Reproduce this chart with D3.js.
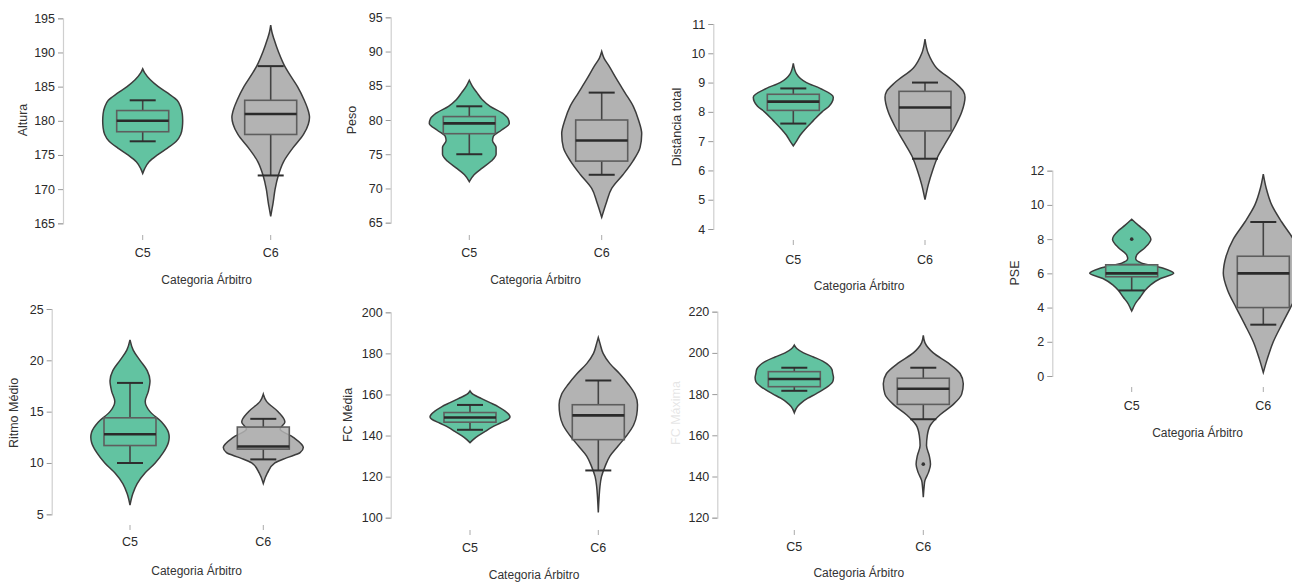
<!DOCTYPE html>
<html>
<head>
<meta charset="utf-8">
<script src="https://cdn.jsdelivr.net/npm/d3@7"></script>
<style>
  body { margin: 0; background: #fff; }
  svg { display: block; font-family: "Liberation Sans", Arial, sans-serif; }
</style>
</head>
<body>
<div id="draw"></div>
<script>
// categories and labels
var categories = ["C5", "C6"];
var xTitle = "Categoria Árbitro";
var yLabels = ["Altura", "Peso", "Distância total", "PSE", "Ritmo Médio", "FC Média", "FC Máxima"];
var yDomains = [[165, 195], [65, 95], [4, 11], [0, 12], [5, 25], [100, 200], [120, 220]];
var yTicks = [
    [165, 170, 175, 180, 185, 190, 195],
    [65, 70, 75, 80, 85, 90, 95],
    [4, 5, 6, 7, 8, 9, 10, 11],
    [0, 2, 4, 6, 8, 10, 12],
    [5, 10, 15, 20, 25],
    [100, 120, 140, 160, 180, 200],
    [120, 140, 160, 180, 200, 220]
];

// box stats per category: [q1, median, q3, lowWhisker, highWhisker]
var alturaStats = [[178.4, 180, 181.5, 177, 183], [178, 181, 183, 172, 188]];
var pesoStats = [[78, 79.5, 80.5, 75, 82], [74, 77, 80, 72, 84]];
var distStats = [[8.05, 8.35, 8.6, 7.6, 8.8], [7.35, 8.15, 8.7, 6.4, 9.0]];
var pseStats = [[5.8, 6, 6.5, 5, 6.5], [4, 6, 7, 3, 9]];
var ritmoStats = [[11.7, 12.8, 14.4, 10, 17.8], [11.35, 11.6, 13.5, 10.35, 14.3]];
var fcMediaStats = [[146.5, 148.8, 151.2, 142.8, 154.9], [138, 149.8, 155, 123, 166.8]];
var fcMaxStats = [[183.6, 187.3, 190.9, 181.6, 192.8], [175, 182.6, 187.7, 167.8, 192.8]];

// outliers per category
var pseOutliers = [[8], []];
var fcMaxOutliers = [[], [146]];

// violin outlines: [value, relative half width]
var alturaViolin = [
    [[172.3, 0], [173, 0.05], [174, 0.16], [175, 0.37], [176, 0.62], [177, 0.84], [178, 0.95], [179, 0.99], [180, 1.0], [181, 0.99], [182, 0.95], [183, 0.86], [184, 0.64], [185, 0.39], [186, 0.19], [187, 0.05], [187.6, 0]],
    [[166, 0], [167, 0.03], [168, 0.06], [170, 0.11], [172, 0.19], [174, 0.32], [176, 0.55], [178, 0.82], [179.5, 0.94], [180.5, 0.97], [182, 0.91], [183, 0.84], [185, 0.67], [187, 0.45], [188, 0.35], [190, 0.2], [192, 0.08], [193, 0.03], [194, 0]]
];
var pesoViolin = [
    [[71, 0], [72, 0.12], [73, 0.33], [74, 0.55], [75, 0.67], [76, 0.67], [77, 0.58], [77.6, 0.6], [78.5, 0.8], [79.5, 1.0], [80.2, 0.97], [81, 0.83], [82, 0.52], [83, 0.32], [84, 0.19], [85, 0.07], [85.8, 0]],
    [[65.8, 0], [68, 0.12], [70, 0.25], [72, 0.53], [74, 0.78], [76, 0.96], [78, 1.0], [80, 0.92], [82, 0.79], [84, 0.58], [86, 0.37], [88, 0.17], [89, 0.06], [90, 0]]
];
var distViolin = [
    [[6.84, 0], [7.0, 0.08], [7.2, 0.17], [7.4, 0.29], [7.7, 0.5], [8.0, 0.72], [8.2, 0.9], [8.5, 1.0], [8.8, 0.67], [9.0, 0.33], [9.3, 0.08], [9.66, 0]],
    [[5.0, 0], [5.5, 0.08], [6.0, 0.19], [6.5, 0.33], [7.0, 0.54], [7.5, 0.75], [8.0, 0.92], [8.5, 1.0], [8.7, 0.96], [9.0, 0.75], [9.5, 0.29], [10.0, 0.08], [10.48, 0]]
];
var pseViolin = [
    [[3.8, 0], [4.0, 0.04], [4.3, 0.11], [4.6, 0.21], [5.0, 0.33], [5.3, 0.46], [5.7, 0.72], [6.0, 1.05], [6.3, 0.79], [6.6, 0.25], [6.85, 0.1], [7.1, 0.13], [7.5, 0.33], [8.0, 0.48], [8.5, 0.33], [8.8, 0.17], [9.16, 0]],
    [[0.2, 0], [1, 0.1], [2, 0.25], [3, 0.46], [4, 0.68], [5, 0.89], [6, 1.0], [7, 0.93], [8, 0.75], [9, 0.46], [10, 0.21], [11, 0.07], [11.8, 0]]
];
var ritmoViolin = [
    [[5.9, 0], [7, 0.07], [8, 0.18], [9, 0.37], [10, 0.63], [11, 0.83], [12, 0.96], [12.5, 0.98], [13, 0.96], [14, 0.79], [15, 0.5], [16, 0.38], [17, 0.46], [18, 0.5], [19, 0.43], [20, 0.25], [21, 0.08], [22, 0]],
    [[8, 0], [9, 0.1], [10, 0.29], [10.5, 0.58], [11, 0.92], [11.5, 1.0], [12.5, 0.75], [13.3, 0.42], [14, 0.54], [15, 0.37], [16, 0.08], [16.7, 0]]
];
var fcMediaViolin = [
    [[136.5, 0], [138, 0.08], [140, 0.21], [142, 0.38], [144, 0.54], [146, 0.75], [148, 0.96], [149, 1.0], [150, 0.98], [152, 0.87], [154, 0.71], [156, 0.5], [158, 0.29], [160, 0.08], [161.7, 0]],
    [[102.5, 0], [110, 0.02], [115, 0.04], [120, 0.08], [125, 0.17], [130, 0.29], [135, 0.5], [140, 0.71], [145, 0.88], [150, 0.96], [155, 0.98], [160, 0.92], [165, 0.75], [170, 0.54], [175, 0.29], [180, 0.12], [185, 0.04], [187.7, 0]]
];
var fcMaxViolin = [
    [[171, 0], [174, 0.08], [176, 0.19], [178, 0.34], [180, 0.53], [182, 0.71], [184, 0.86], [186, 0.96], [188, 0.98], [190, 0.96], [192, 0.94], [194, 0.86], [196, 0.71], [198, 0.48], [200, 0.23], [202, 0.07], [203.8, 0]],
    [[130, 0], [135, 0.02], [138, 0.04], [142, 0.13], [146, 0.18], [150, 0.15], [155, 0.08], [160, 0.1], [165, 0.18], [170, 0.42], [175, 0.75], [180, 0.96], [185, 1.0], [190, 0.92], [195, 0.63], [200, 0.25], [205, 0.04], [208.5, 0]]
];

var allStats = [alturaStats, pesoStats, distStats, pseStats, ritmoStats, fcMediaStats, fcMaxStats];
var allViolins = [alturaViolin, pesoViolin, distViolin, pseViolin, ritmoViolin, fcMediaViolin, fcMaxViolin];
var allOutliers = [[[], []], [[], []], [[], []], pseOutliers, [[], []], [[], []], fcMaxOutliers];

// panel placement on the page
var layout = [
    {ax: 63, top: 18.3, bot: 223.3, cats: [142.7, 270.7], tickY: 235, labY: 253, titY: 280, ylX: 23, ylY: 120},
    {ax: 390.7, top: 17.3, bot: 222.7, cats: [469.3, 601.7], tickY: 235, labY: 253, titY: 280, ylX: 351.7, ylY: 120},
    {ax: 713.3, top: 24, bot: 229, cats: [793.3, 925], tickY: 240, labY: 260, titY: 286, ylX: 676.7, ylY: 127},
    {ax: 1052.3, top: 170.7, bot: 376, cats: [1131.7, 1263.3], tickY: 387, labY: 406, titY: 432.7, ylX: 1015, ylY: 273},
    {ax: 51.7, top: 309, bot: 514.3, cats: [130, 263.3], tickY: 525, labY: 541.7, titY: 571, ylX: 13.3, ylY: 413},
    {ax: 390.7, top: 312.3, bot: 517.7, cats: [470, 598.3], tickY: 530, labY: 547.7, titY: 574.3, ylX: 348, ylY: 415},
    {ax: 717.3, top: 311.7, bot: 517.7, cats: [794.3, 923.3], tickY: 530, labY: 547, titY: 573, ylX: 676, ylY: 413}
];

var fills = ["#62c3a1", "#b3b3b3"];
var width = 1292, height = 582;

var svg = d3.select('#draw').append('svg')
    .attr('width', width).attr('height', height);

var wScale = d3.scaleLinear().domain([0, 1]).range([0, 40]);
var boxHalf = 26, capHalf = 13;

layout.forEach(function (L, p) {
    var g = svg.append('g');
    var y = d3.scaleLinear().domain(yDomains[p]).range([L.bot, L.top]);
    var x = d3.scaleOrdinal().domain(categories).range(L.cats);

    // y axis
    var yAxis = d3.axisLeft(y).tickValues(yTicks[p]).tickFormat(d3.format('d'))
        .tickSize(5).tickPadding(3);
    var ag = g.append('g').attr('transform', 'translate(' + L.ax + ',0)').call(yAxis);
    ag.select('.domain').attr('stroke', '#cfcfcf').attr('stroke-width', 1.2);
    ag.selectAll('.tick line').attr('stroke', '#9a9a9a');
    ag.selectAll('.tick text').attr('fill', '#2a2a2a').style('font-size', '12.5px')
        .style('font-family', '"Liberation Sans", Arial, sans-serif');

    // category ticks and labels
    categories.forEach(function (c) {
        g.append('line')
            .attr('x1', x(c)).attr('x2', x(c))
            .attr('y1', L.tickY).attr('y2', L.tickY + 5)
            .attr('stroke', '#aaa');
        g.append('text')
            .attr('x', x(c)).attr('y', L.labY)
            .attr('dy', '0.35em')
            .attr('text-anchor', 'middle')
            .attr('fill', '#2a2a2a')
            .style('font-size', '12.5px')
            .text(c);
    });

    g.append('text')
        .attr('x', (L.cats[0] + L.cats[1]) / 2).attr('y', L.titY)
        .attr('dy', '0.35em')
        .attr('text-anchor', 'middle')
        .attr('fill', '#333')
        .style('font-size', '12px')
        .text(xTitle);

    g.append('text')
        .attr('transform', 'translate(' + L.ylX + ',' + L.ylY + ') rotate(-90)')
        .attr('dy', '0.35em')
        .attr('text-anchor', 'middle')
        .attr('fill', '#333')
        .attr('opacity', p === 6 ? 0.12 : 1)
        .style('font-size', '12.5px')
        .text(yLabels[p]);

    categories.forEach(function (c, i) {
        var cx = x(c),
            s = allStats[p][i];

        var area = d3.area()
            .y(function (d) { return y(d[0]); })
            .x0(function (d) { return cx - wScale(d[1]); })
            .x1(function (d) { return cx + wScale(d[1]); })
            .curve(d3.curveMonotoneY);

        g.append('path')
            .datum(allViolins[p][i])
            .attr('d', area)
            .attr('fill', fills[i])
            .attr('stroke', '#3c3c3c')
            .attr('stroke-width', 1.5);

        // whiskers
        g.append('line')
            .attr('x1', cx).attr('x2', cx)
            .attr('y1', y(s[3])).attr('y2', y(s[0]))
            .attr('stroke', '#444').attr('stroke-width', 1.6);
        g.append('line')
            .attr('x1', cx).attr('x2', cx)
            .attr('y1', y(s[2])).attr('y2', y(s[4]))
            .attr('stroke', '#444').attr('stroke-width', 1.6);
        [s[3], s[4]].forEach(function (v) {
            g.append('line')
                .attr('x1', cx - capHalf).attr('x2', cx + capHalf)
                .attr('y1', y(v)).attr('y2', y(v))
                .attr('stroke', '#2e2e2e').attr('stroke-width', 2);
        });

        // box
        g.append('rect')
            .attr('x', cx - boxHalf).attr('width', boxHalf * 2)
            .attr('y', y(s[2])).attr('height', y(s[0]) - y(s[2]))
            .attr('fill', fills[i])
            .attr('fill-opacity', 0.85)
            .attr('stroke', '#5e5e5e')
            .attr('stroke-width', 1.6);

        // median
        g.append('line')
            .attr('x1', cx - boxHalf).attr('x2', cx + boxHalf)
            .attr('y1', y(s[1])).attr('y2', y(s[1]))
            .attr('stroke', '#2a2a2a').attr('stroke-width', 2.6);

        allOutliers[p][i].forEach(function (v) {
            g.append('circle')
                .attr('cx', cx).attr('cy', y(v)).attr('r', 1.8)
                .attr('fill', '#333');
        });
    });
});
</script>
</body>
</html>
